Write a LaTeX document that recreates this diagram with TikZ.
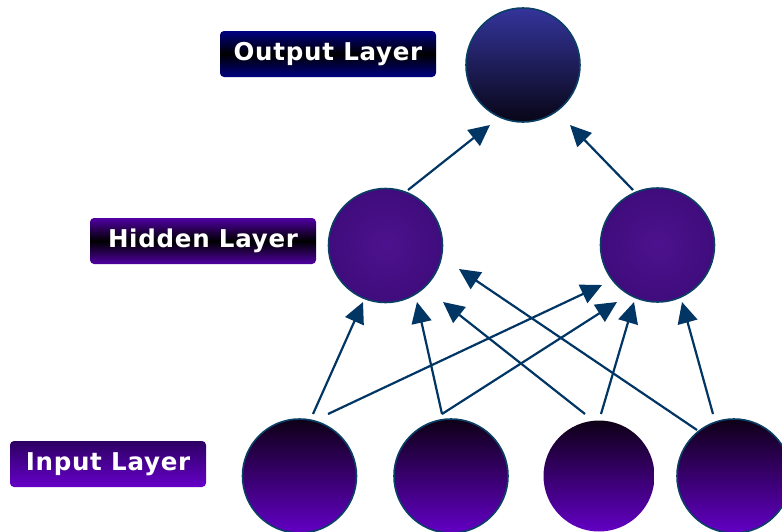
\documentclass[tikz,border=0pt]{standalone}
\usepackage{fontspec}
\setsansfont{DejaVu Sans}[LetterSpace=3]
\usetikzlibrary{arrows.meta,calc}
\definecolor{arrowc}{HTML}{003564}
\definecolor{rimc}{HTML}{0A3F66}
\definecolor{outtop}{HTML}{34349C}
\definecolor{outbot}{HTML}{080616}
\definecolor{intop}{HTML}{0E0016}
\definecolor{inbot}{HTML}{6200C4}
\definecolor{hidc}{HTML}{400C7C}
\definecolor{hidin}{HTML}{4C128E}
\definecolor{obox}{HTML}{000082}
\definecolor{hbox}{HTML}{5000A2}
\definecolor{ibtop}{HTML}{2C0062}
\definecolor{ibbot}{HTML}{6600C8}
\tikzset{
  neuron/.style={circle, minimum size=114pt, inner sep=0pt},
  rim/.style={draw=rimc, line width=1.6pt},
  outn/.style={neuron, rim, top color=outtop, bottom color=outbot},
  hidn/.style={neuron, rim, inner color=hidin, outer color=hidc},
  inpn/.style={neuron, top color=intop, bottom color=inbot},
  labelbox/.style={rounded corners=4pt, minimum height=46pt, inner sep=0pt,
    text=white, font=\sffamily\bfseries\fontsize{24.5}{28}\selectfont},
  conn/.style={draw=arrowc, line width=2.2pt, -{Triangle[length=21pt,width=20pt]}}
}
\begin{document}
\begin{tikzpicture}[x=1pt,y=-1pt]
\useasboundingbox (0,0) rectangle (782,531);
% label boxes
\node[labelbox, minimum width=216pt, top color=obox, bottom color=obox, middle color=black] (lo) at (328,54) {Output Layer};
\node[labelbox, minimum width=226pt, top color=hbox, bottom color=hbox, middle color=black] (lh) at (203,241) {Hidden Layer};
\node[labelbox, minimum width=196pt, top color=ibtop, bottom color=ibbot] (li) at (108,464) {Input Layer};
% neurons
\node[outn] (o) at (523,65) {};
\node[hidn] (h1) at (385.5,245.5) {};
\node[hidn] (h2) at (657.5,245) {};
\node[inpn, rim] (i1) at (299.5,476) {};
\node[inpn, rim] (i2) at (451,476) {};
\node[inpn, minimum size=111pt] (i3) at (599,476) {};
\node[inpn, rim] (i4) at (734,476) {};
% connectors
\draw[conn] ($(i1.center)+(13.5,-62)$) -- ($(h1.center)+(-22.5,56.5)$);
\draw[conn] ($(i1.center)+(28.5,-62)$) -- ($(h2.center)+(-55.5,40)$);
\draw[conn] ($(i2.center)+(-9,-62)$) -- ($(h1.center)+(31.5,56.5)$);
\draw[conn] ($(i2.center)+(-9,-62)$) -- ($(h2.center)+(-40.5,57)$);
\draw[conn] ($(i3.center)+(-14,-62)$) -- ($(h1.center)+(57.5,56.5)$);
\draw[conn] ($(i3.center)+(2,-62)$) -- ($(h2.center)+(-23.5,57)$);
\draw[conn] ($(i4.center)+(-37,-46)$) -- ($(h1.center)+(73.5,23.5)$);
\draw[conn] ($(i4.center)+(-21,-62)$) -- ($(h2.center)+(24.5,57)$);
\draw[conn] ($(h1.center)+(22.5,-55.5)$) -- ($(o.center)+(-33,60)$);
\draw[conn] ($(h2.center)+(-24.5,-55)$) -- ($(o.center)+(47,60)$);
\end{tikzpicture}
\end{document}
